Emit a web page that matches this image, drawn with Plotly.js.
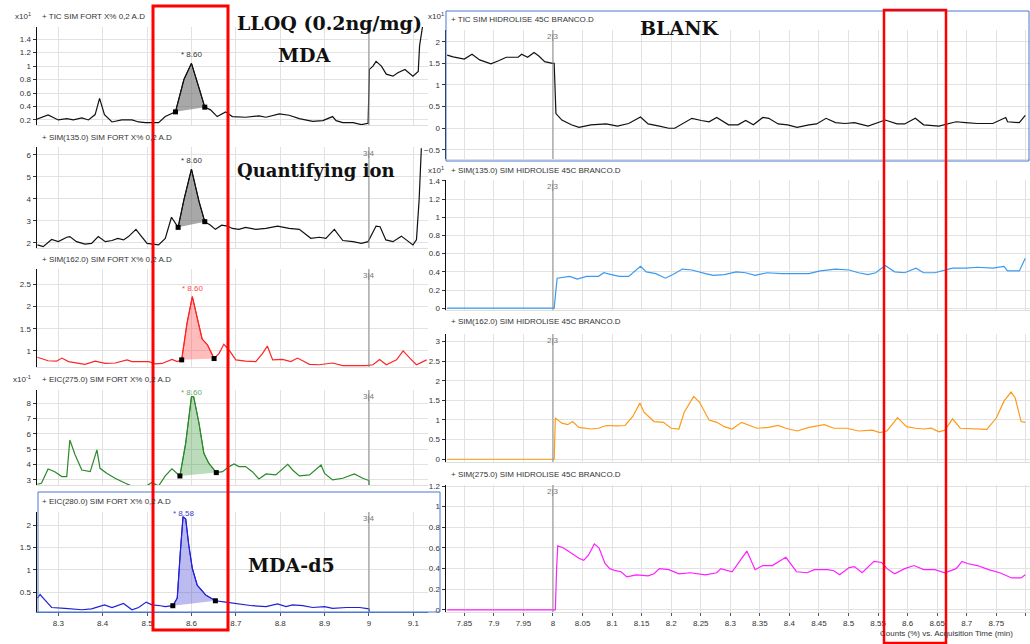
<!DOCTYPE html>
<html><head><meta charset="utf-8">
<script src="https://cdn.plot.ly/plotly-3.0.1.min.js"></script>
<style>html,body{margin:0;padding:0;background:#fff}#chart{width:1030px;height:644px}</style>
</head><body><div id="chart"></div>
<script>
// ================= DATA =================
// Left column: LLOQ sample (SIM FORT X% 0,2 A.D), acquisition time (min) vs counts
const ticFortTime = [8.251,8.277,8.300,8.319,8.334,8.353,8.368,8.383,8.393,8.404,8.421,8.443,8.466,8.481,8.496,8.526,8.541,8.564,8.583,8.600,8.617,8.630,8.643,8.658,8.677,8.692,8.722,8.752,8.768,8.798,8.820,8.843,8.873,8.896,8.918,8.926,8.941,8.964,8.983,8.998,9.001,9.009,9.016,9.028,9.039,9.054,9.065,9.081,9.099,9.111,9.114,9.121];
const ticFortCounts = [0.21,0.275,0.2,0.22,0.2,0.23,0.2,0.28,0.52,0.28,0.17,0.2,0.2,0.17,0.16,0.16,0.25,0.32,0.8,1.04,0.68,0.39,0.35,0.25,0.32,0.25,0.24,0.26,0.24,0.29,0.27,0.22,0.18,0.19,0.25,0.19,0.16,0.16,0.13,0.15,0.95,1.0,1.07,1.0,0.88,0.85,0.9,0.95,0.85,0.92,1.3,1.6];

const sim135FortTime = [8.253,8.266,8.285,8.300,8.319,8.326,8.341,8.360,8.375,8.390,8.406,8.421,8.434,8.447,8.458,8.475,8.485,8.500,8.526,8.541,8.555,8.562,8.570,8.583,8.600,8.617,8.630,8.643,8.654,8.668,8.681,8.692,8.707,8.722,8.745,8.768,8.794,8.820,8.843,8.869,8.888,8.903,8.922,8.941,8.964,8.983,8.998,9.016,9.025,9.038,9.054,9.073,9.084,9.099,9.107,9.113,9.118];
const sim135FortCounts = [1.9,1.82,2.15,2.05,2.25,2.28,2.05,1.94,1.97,2.28,2.05,2.1,2.2,2.13,2.28,2.61,2.35,1.97,1.9,2.2,3.16,2.96,2.7,3.95,5.35,3.88,2.96,2.8,2.61,2.8,2.76,2.65,2.61,2.7,2.61,2.65,2.76,2.65,2.61,2.2,2.25,2.2,2.61,2.1,2.05,1.97,2.05,2.76,2.73,2.13,2.05,2.3,2.13,1.9,2.13,3.95,6.3];

const sim162FortTime = [8.253,8.277,8.296,8.308,8.323,8.338,8.360,8.383,8.406,8.428,8.455,8.466,8.489,8.504,8.519,8.534,8.556,8.568,8.578,8.590,8.602,8.613,8.624,8.636,8.651,8.662,8.673,8.685,8.700,8.722,8.745,8.760,8.771,8.783,8.805,8.824,8.839,8.866,8.888,8.918,8.941,8.994,9.009,9.024,9.039,9.062,9.077,9.092,9.107,9.130];
const sim162FortCounts = [0.86,0.78,0.77,0.84,0.76,0.73,0.70,0.77,0.72,0.73,0.80,0.76,0.77,0.76,0.71,0.72,0.81,0.76,0.80,1.62,2.22,1.77,1.27,1.14,0.83,0.94,1.15,1.02,0.80,0.77,0.76,0.94,1.11,0.80,0.81,0.76,0.84,0.70,0.69,0.73,0.67,0.67,0.69,0.81,0.69,0.80,1.00,0.84,0.69,0.80];

const eic275FortTime = [8.253,8.262,8.277,8.292,8.308,8.319,8.326,8.338,8.353,8.372,8.387,8.394,8.409,8.428,8.451,8.473,8.496,8.511,8.526,8.541,8.556,8.564,8.574,8.587,8.600,8.605,8.617,8.628,8.639,8.656,8.670,8.685,8.696,8.707,8.722,8.737,8.752,8.768,8.790,8.817,8.828,8.843,8.866,8.892,8.900,8.918,8.941,8.967,8.986,9.000,9.001];
const eic275FortCounts = [2.72,2.78,3.72,3.54,3.22,3.22,5.61,4.63,3.65,3.54,4.96,3.76,3.43,3.11,2.78,2.52,2.57,2.83,2.61,3.26,3.72,3.54,3.26,5.39,8.43,8.43,6.70,4.74,4.09,3.48,3.54,3.87,4.04,3.87,3.87,3.54,3.07,3.39,3.33,4.02,3.65,3.26,3.33,3.98,3.43,3.00,3.11,3.39,3.11,2.96,2.00];

const eic280FortTime = [8.253,8.259,8.266,8.285,8.315,8.353,8.375,8.404,8.421,8.447,8.466,8.481,8.498,8.511,8.530,8.541,8.558,8.568,8.575,8.581,8.587,8.594,8.602,8.613,8.632,8.654,8.677,8.707,8.737,8.768,8.794,8.813,8.828,8.851,8.873,8.900,8.918,8.949,8.979,9.000,9.001];
const eic280FortCounts = [0.37,0.45,0.37,0.16,0.14,0.11,0.13,0.22,0.16,0.25,0.11,0.16,0.28,0.22,0.20,0.18,0.20,0.37,1.40,2.18,2.14,1.55,1.03,0.66,0.44,0.31,0.28,0.24,0.20,0.18,0.24,0.18,0.22,0.20,0.16,0.18,0.14,0.16,0.16,0.13,0.07];

// Integrated peaks (start / end of baseline) and retention-time labels
const peakStartTimes = [8.564, 8.570, 8.578, 8.574, 8.558];
const peakEndTimes   = [8.630, 8.630, 8.651, 8.656, 8.654];
const peakRtLabels   = ['8.60', '8.60', '8.60', '8.60', '8.58'];

// Right column: blank (SIM HIDROLISE 45C BRANCO.D)
const ticBlankTime = [7.821,7.831,7.850,7.863,7.876,7.895,7.908,7.921,7.941,7.947,7.957,7.968,7.976,7.986,7.999,8.002,8.005,8.015,8.031,8.044,8.064,8.090,8.109,8.128,8.148,8.161,8.180,8.196,8.206,8.219,8.235,8.251,8.264,8.277,8.297,8.313,8.326,8.339,8.355,8.365,8.381,8.397,8.413,8.433,8.446,8.462,8.478,8.494,8.510,8.533,8.546,8.562,8.582,8.595,8.613,8.627,8.653,8.666,8.682,8.698,8.718,8.744,8.766,8.769,8.789,8.799];
const ticBlankCounts = [1.69,1.65,1.6,1.71,1.58,1.49,1.56,1.64,1.64,1.71,1.64,1.75,1.67,1.54,1.5,1.5,0.34,0.19,0.08,0.02,0.08,0.1,0.05,0.11,0.26,0.1,0.05,0,0,0.1,0.23,0.18,0.15,0.25,0.08,0.08,0.18,0.08,0.25,0.23,0.1,0.08,0.02,0.08,0.1,0.23,0.13,0.11,0.13,0.05,0.11,0.19,0.1,0.1,0.23,0.08,0.05,0.1,0.15,0.13,0.11,0.11,0.25,0.15,0.13,0.3];

const sim135BlankTime = [7.821,8.002,8.007,8.018,8.028,8.041,8.057,8.077,8.086,8.099,8.112,8.128,8.148,8.158,8.174,8.190,8.203,8.219,8.235,8.258,8.271,8.290,8.310,8.326,8.342,8.362,8.387,8.433,8.452,8.478,8.501,8.517,8.533,8.546,8.562,8.578,8.595,8.614,8.627,8.646,8.663,8.676,8.698,8.718,8.744,8.763,8.769,8.789,8.799];
const sim135BlankCounts = [0,0,0.33,0.34,0.35,0.32,0.35,0.35,0.39,0.37,0.35,0.35,0.46,0.4,0.38,0.33,0.37,0.43,0.42,0.38,0.36,0.37,0.4,0.39,0.36,0.39,0.38,0.38,0.41,0.43,0.42,0.39,0.37,0.39,0.47,0.4,0.39,0.44,0.39,0.39,0.42,0.44,0.44,0.45,0.44,0.46,0.41,0.41,0.55];

const sim162BlankTime = [7.821,8.002,8.004,8.015,8.025,8.033,8.044,8.064,8.077,8.090,8.109,8.122,8.135,8.147,8.154,8.171,8.187,8.200,8.213,8.222,8.238,8.248,8.264,8.277,8.290,8.303,8.319,8.329,8.345,8.365,8.381,8.394,8.413,8.433,8.459,8.475,8.497,8.517,8.540,8.553,8.565,8.583,8.598,8.614,8.627,8.640,8.653,8.663,8.676,8.689,8.711,8.734,8.750,8.763,8.775,8.782,8.792,8.799];
const sim162BlankCounts = [0,0,1.05,0.92,0.88,0.96,0.81,0.77,0.79,0.86,0.85,0.86,1.09,1.43,1.2,0.96,0.94,0.79,0.77,1.2,1.6,1.45,1.0,0.94,0.83,0.77,0.94,0.89,0.79,0.81,0.86,0.79,0.72,0.81,0.88,0.79,0.79,0.72,0.74,0.68,0.72,1.06,0.83,0.79,0.77,0.79,0.70,0.74,1.03,0.79,0.77,0.76,1.05,1.48,1.71,1.56,0.96,0.94];

const sim275BlankTime = [7.821,8.004,8.006,8.008,8.018,8.031,8.044,8.052,8.060,8.070,8.078,8.088,8.096,8.106,8.115,8.125,8.141,8.161,8.171,8.180,8.196,8.213,8.232,8.258,8.277,8.284,8.303,8.328,8.342,8.355,8.371,8.394,8.412,8.430,8.442,8.465,8.475,8.485,8.501,8.510,8.523,8.543,8.556,8.565,8.578,8.595,8.611,8.627,8.646,8.663,8.682,8.692,8.701,8.718,8.737,8.756,8.776,8.792,8.799];
const sim275BlankCounts = [0,0,0.38,0.62,0.6,0.55,0.5,0.48,0.53,0.64,0.6,0.45,0.4,0.38,0.37,0.32,0.34,0.33,0.35,0.4,0.39,0.35,0.36,0.34,0.36,0.4,0.37,0.57,0.39,0.43,0.43,0.51,0.37,0.36,0.39,0.39,0.38,0.34,0.41,0.42,0.36,0.47,0.46,0.4,0.35,0.4,0.43,0.39,0.39,0.36,0.4,0.47,0.45,0.43,0.39,0.36,0.31,0.31,0.34];

const leftHeaders = ['TIC SIM FORT X% 0,2 A.D','SIM(135.0) SIM FORT X% 0,2 A.D','SIM(162.0) SIM FORT X% 0,2 A.D','EIC(275.0) SIM FORT X% 0,2 A.D','EIC(280.0) SIM FORT X% 0,2 A.D'];
const rightHeaders = ['TIC SIM HIDROLISE 45C BRANCO.D','SIM(135.0) SIM HIDROLISE 45C BRANCO.D','SIM(162.0) SIM HIDROLISE 45C BRANCO.D','SIM(275.0) SIM HIDROLISE 45C BRANCO.D'];
const leftSegmentTime = 9.0, leftSegmentLabel = '3|4';
const rightSegmentTime = 8.0, rightSegmentLabel = '2|3';

// ================= LAYOUT / STYLE =================
const W = 1030, H = 644;
const fx = p => p / W, fy = p => 1 - p / H;
const FONT = 'Liberation Sans, Arial, sans-serif';
const SERIF = 'DejaVu Serif, Georgia, serif';

const leftSeries = [
  [ticFortTime, ticFortCounts], [sim135FortTime, sim135FortCounts], [sim162FortTime, sim162FortCounts],
  [eic275FortTime, eic275FortCounts], [eic280FortTime, eic280FortCounts]
];
const rightSeries = [
  [ticBlankTime, ticBlankCounts], [sim135BlankTime, sim135BlankCounts],
  [sim162BlankTime, sim162BlankCounts], [sim275BlankTime, sim275BlankCounts]
];

const leftStyle = [
  {top:27, bot:125, range:[0.125,1.58], dtick:0.2, line:'#111', fill:'rgba(110,110,110,0.6)', lab:'#333', hy:16, shift:7},
  {top:147, bot:248, range:[1.76,6.36], dtick:1, line:'#111', fill:'rgba(110,110,110,0.6)', lab:'#333', hy:137, shift:7},
  {top:269, bot:367, range:[0.64,2.84], dtick:0.5, line:'#ff2424', fill:'rgba(255,80,80,0.38)', lab:'#ff4a4a', hy:259, shift:7},
  {top:390, bot:485, range:[2.67,8.87], dtick:1, line:'#2a8a2a', fill:'rgba(50,150,50,0.33)', lab:'#6aa86a', hy:379, shift:3},
  {top:512, bot:612, range:[0.06,2.29], dtick:0.5, line:'#2020d8', fill:'rgba(60,60,210,0.35)', lab:'#4040d0', hy:501, shift:2}
];
const rightStyle = [
  {top:30, bot:159, range:[-0.71,2.27], dtick:0.5, line:'#111', hy:20},
  {top:180, bot:310, range:[-0.02,1.41], dtick:0.2, line:'#3a9af0', hy:171},
  {top:334, bot:462, range:[-0.07,3.19], dtick:0.5, line:'#ff9a16', hy:321},
  {top:485, bot:612, range:[-0.02,1.21], dtick:0.2, line:'#ff1eff', hy:474}
];

const traces = [], layout = {
  width: W, height: H, margin: {l:0, r:0, t:0, b:0},
  paper_bgcolor: '#fff', plot_bgcolor: '#fff', showlegend: false,
  font: {family: FONT, size: 8, color: '#333'},
  shapes: [], annotations: []
};
const ax = n => n === 1 ? '' : String(n);
const tickFont = {family: FONT, size: 8, color: '#333'};

function addAxes(n, xdom, xrange, xdtick, xtick0, showX, st, xlineColor) {
  layout['xaxis' + ax(n)] = {
    domain: xdom, range: xrange, dtick: xdtick, tick0: xtick0, anchor: 'y' + ax(n),
    showgrid: true, gridcolor: '#e2e2e2', gridwidth: 1, zeroline: false,
    showticklabels: showX, ticks: showX ? 'outside' : '', ticklen: 3, tickcolor: '#555',
    tickfont: tickFont, showline: true, linecolor: xlineColor, linewidth: 1
  };
  layout['yaxis' + ax(n)] = {
    domain: [fy(st.bot), fy(st.top)], range: st.range, dtick: st.dtick, tick0: 0, anchor: 'x' + ax(n),
    showgrid: true, gridcolor: '#e2e2e2', gridwidth: 1, zeroline: false,
    ticks: 'outside', ticklen: 3, tickcolor: '#333', tickfont: tickFont,
    showline: true, linecolor: '#111', linewidth: 1.5
  };
}

// Left panels
leftSeries.forEach(([t, v], i) => {
  const n = i + 1, st = leftStyle[i];
  const xa = 'x' + ax(n), ya = 'y' + ax(n);
  addAxes(n, [fx(37), fx(428)], [8.252, 9.133], 0.1, 8.3, i === 4, st, i === 4 ? '#4a78d0' : '#dedede');
  // integrated peak area
  const px = [], py = [];
  t.forEach((tt, k) => { if (tt >= peakStartTimes[i] - 1e-6 && tt <= peakEndTimes[i] + 1e-6) { px.push(tt); py.push(v[k]); } });
  traces.push({x: px, y: py, xaxis: xa, yaxis: ya, mode: 'lines', fill: 'toself',
    fillcolor: st.fill, line: {color: st.line, width: 1}, hoverinfo: 'skip'});
  traces.push({x: t, y: v, xaxis: xa, yaxis: ya, mode: 'lines', line: {color: st.line, width: 1.2}, hoverinfo: 'skip'});
  traces.push({x: [px[0], px[px.length - 1]], y: [py[0], py[py.length - 1]], xaxis: xa, yaxis: ya,
    mode: 'markers', marker: {symbol: 'square', size: 5, color: '#000'}, hoverinfo: 'skip'});
  // apex label
  let am = 0; py.forEach((y, k) => { if (y > py[am]) am = k; });
  layout.annotations.push({x: px[am], y: py[am], xref: xa, yref: ya, text: '* ' + peakRtLabels[i],
    showarrow: false, yanchor: 'bottom', yshift: st.shift - 5, font: {family: FONT, size: 8, color: st.lab}});
  // segment marker
  layout.shapes.push({type: 'line', xref: xa, yref: ya + ' domain', x0: leftSegmentTime, x1: leftSegmentTime, y0: 0, y1: 1,
    line: {color: '#8a8a8a', width: 1}});
  if (i > 0) layout.annotations.push({x: leftSegmentTime, y: 1, xref: xa, yref: ya + ' domain', text: leftSegmentLabel,
    showarrow: false, yanchor: 'top', font: {family: FONT, size: 8, color: '#777'}});
  layout.annotations.push({x: fx(40), y: fy(st.hy), xref: 'paper', yref: 'paper', xanchor: 'left', yanchor: 'middle',
    text: '+ ' + leftHeaders[i], showarrow: false, font: {family: FONT, size: 8, color: '#333'}});
});

// Right panels
rightSeries.forEach(([t, v], i) => {
  const n = i + 6, st = rightStyle[i];
  const xa = 'x' + ax(n), ya = 'y' + ax(n);
  addAxes(n, [fx(446), 1], [7.819, 8.807], 0.05, 7.85, i === 3, st, '#dedede');
  traces.push({x: t, y: v, xaxis: xa, yaxis: ya, mode: 'lines', line: {color: st.line, width: 1.2}, hoverinfo: 'skip'});
  layout.shapes.push({type: 'line', xref: xa, yref: ya + ' domain', x0: rightSegmentTime, x1: rightSegmentTime, y0: 0, y1: 1,
    line: {color: '#8a8a8a', width: 1}});
  layout.annotations.push({x: rightSegmentTime, y: 1, xref: xa, yref: ya + ' domain', text: rightSegmentLabel,
    showarrow: false, yanchor: 'top', font: {family: FONT, size: 8, color: '#777'}});
  layout.annotations.push({x: fx(449), y: fy(st.hy), xref: 'paper', yref: 'paper', xanchor: 'left', yanchor: 'middle',
    text: '+ ' + rightHeaders[i], showarrow: false, font: {family: FONT, size: 8, color: '#333'}});
});

// multipliers and axis caption
const small = (x, y, text, xanchor) => layout.annotations.push({x: fx(x), y: fy(y), xref: 'paper', yref: 'paper',
  xanchor: xanchor || 'right', yanchor: 'middle', text, showarrow: false, font: {family: FONT, size: 8, color: '#333'}});
small(33, 16, 'x10<sup>1</sup>');
small(33, 379, 'x10<sup>-1</sup>');
small(446, 16, 'x10<sup>1</sup>');
small(446, 170, 'x10<sup>1</sup>');
small(946, 633, 'Counts (%) vs. Acquisition Time (min)', 'center');

// big serif labels
const big = (x, y, text, size) => layout.annotations.push({x: fx(x), y: fy(y), xref: 'paper', yref: 'paper',
  xanchor: 'center', yanchor: 'middle', text: '<b>' + text + '</b>', showarrow: false,
  font: {family: SERIF, size, color: '#111'}});
big(329, 23, 'LLOQ (0.2ng/mg)', 19);
big(304, 55, 'MDA', 19);
big(316, 171, 'Quantifying ion', 18);
big(291, 565, 'MDA-d5', 19);
big(680, 28, 'BLANK', 19);

// panel frames (selected panels) and red highlight boxes
const rect = (x0, y0, x1, y1, color, width) => layout.shapes.push({type: 'rect', xref: 'paper', yref: 'paper',
  x0: fx(x0), x1: fx(x1), y0: fy(y1), y1: fy(y0), line: {color, width}, fillcolor: 'rgba(0,0,0,0)', layer: 'above'});
rect(38, 492, 440, 612, '#4a78d0', 1);
rect(446, 11, 1029, 161, '#4a78d0', 1);
rect(153, 6, 228, 630, '#ff0000', 3);
rect(884, 10, 946, 643, '#ff0000', 2.5);

Plotly.newPlot('chart', traces, layout, {staticPlot: true, displayModeBar: false});
</script>
</body></html>
